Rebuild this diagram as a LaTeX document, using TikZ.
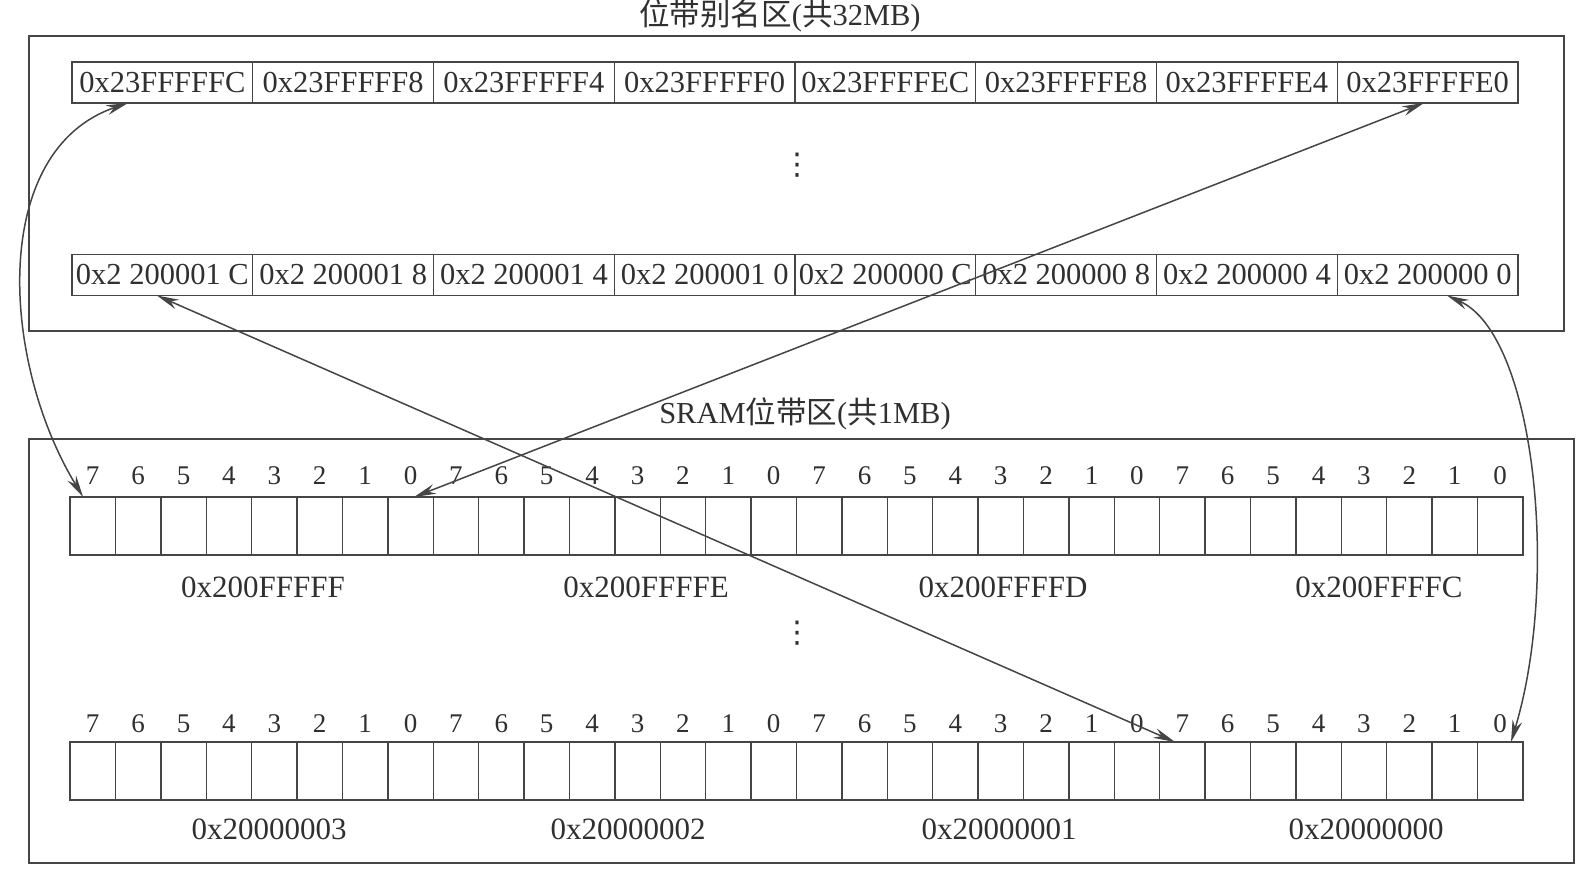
\documentclass[tikz,border=0pt]{standalone}
\usepackage{fontspec}
\setmainfont{Liberation Serif}
\newfontfamily\cjk{Noto Sans CJK SC}
\newfontfamily\dejavu{DejaVu Sans}
\usetikzlibrary{arrows.meta,calc}
\definecolor{linec}{HTML}{454545}
\definecolor{textc}{HTML}{303030}
\begin{document}
\begin{tikzpicture}[x=1pt,y=-1pt,
  every node/.style={text=textc, inner sep=0pt, outer sep=0pt},
  outerbox/.style={draw=linec, line width=1.7pt},
  addrcell/.style={draw=linec, line width=1.4pt, minimum width=180.75pt, minimum height=41pt, font=\fontsize{30.5}{34}\selectfont},
  bitcell/.style={draw=linec, line width=1.4pt, minimum width=45.4pt, minimum height=58pt},
  bitnum/.style={font=\fontsize{27}{30}\selectfont},
  bytelab/.style={font=\fontsize{31}{34}\selectfont},
  titlelab/.style={font=\fontsize{30.5}{34}\selectfont},
  dotslab/.style={font=\dejavu\fontsize{30}{34}\selectfont},
  link/.style={draw=linec, line width=1.5pt, {Stealth[length=22pt,width=10pt]}-{Stealth[length=22pt,width=10pt]}}
]
\useasboundingbox (0,0) rectangle (1589,881);
\fill[white] (0,0) rectangle (1589,881);

% outer boxes
\node[outerbox, minimum width=1535pt, minimum height=295pt] (topbox) at (796.5,183.5) {};
\node[outerbox, minimum width=1545pt, minimum height=424pt] (botbox) at (801.5,651) {};

% titles
\node[titlelab] (title1) at (780,16) {{\cjk 位带别名区}({\cjk 共}32MB)};
\node[titlelab] (title2) at (805,414) {SRAM{\cjk 位带区}({\cjk 共}1MB)};

% alias address cells
\foreach \lab [count=\i] in {0x23FFFFFC,0x23FFFFF8,0x23FFFFF4,0x23FFFFF0,0x23FFFFEC,0x23FFFFE8,0x23FFFFE4,0x23FFFFE0}
  \node[addrcell] (t\i) at ({72+180.75*(\i-0.5)},82.5) {\lab};
\foreach \lab [count=\i] in {0x2 200001 C,0x2 200001 8,0x2 200001 4,0x2 200001 0,0x2 200000 C,0x2 200000 8,0x2 200000 4,0x2 200000 0}
  \node[addrcell] (b\i) at ({72+180.75*(\i-0.5)},275) {\lab};

\node[dotslab] (dots1) at (797,165) {⋮};
\node[dotslab] (dots2) at (797,633) {⋮};

% bit cells
\foreach \i in {0,...,31} {
  \pgfmathtruncatemacro\b{7-mod(\i,8)}
  \node[bitcell] (ra\i) at ({70+45.4*(\i+0.5)},526) {};
  \node[bitnum] (na\i) at ({70+45.4*(\i+0.5)},476) {\b};
  \node[bitcell] (rb\i) at ({70+45.4*(\i+0.5)},771) {};
  \node[bitnum] (nb\i) at ({70+45.4*(\i+0.5)},724) {\b};
}

% byte labels
\node[bytelab] (la1) at (263,587) {0x200FFFFF};
\node[bytelab] (la2) at (646,587) {0x200FFFFE};
\node[bytelab] (la3) at (1003,587) {0x200FFFFD};
\node[bytelab] (la4) at (1379,587) {0x200FFFFC};
\node[bytelab] (lb1) at (269,829) {0x20000003};
\node[bytelab] (lb2) at (628,829) {0x20000002};
\node[bytelab] (lb3) at (999,829) {0x20000001};
\node[bytelab] (lb4) at (1366,829) {0x20000000};

% connector end points
\coordinate (p1) at ($(t1.south west)!0.31!(t1.south east)$);
\coordinate (q1) at ($(ra0.north west)!0.29!(ra0.north east)$);
\coordinate (p2) at ($(ra7.north west)!0.58!(ra7.north east)$);
\coordinate (q2) at ($(t8.south west)!0.48!(t8.south east)$);
\coordinate (p3) at ($(b1.south west)!0.47!(b1.south east)$);
\coordinate (q3) at ($(rb24.north west)!0.34!(rb24.north east)$);
\coordinate (p4) at ($(b8.south west)!0.607!(b8.south east)$);
\coordinate (q4) at ($(rb31.north west)!0.74!(rb31.north east)$);

% connectors
\draw[link] (p1) .. controls (-10,150) and (0,360) .. (q1);
\draw[link] (p2) -- (q2);
\draw[link] (p3) -- (q3);
\draw[link] (p4) .. controls (1535,335) and (1560,580) .. (q4);
\end{tikzpicture}
\end{document}
